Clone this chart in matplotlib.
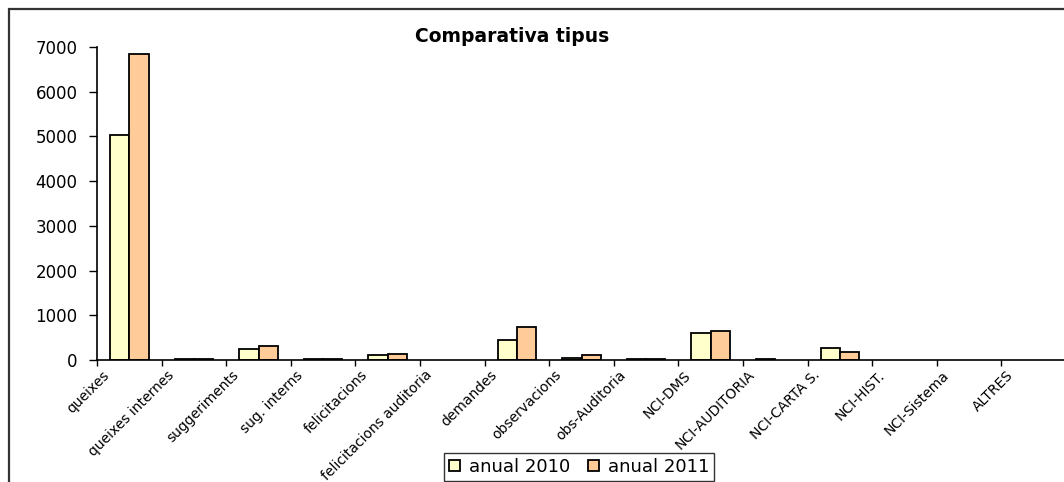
import matplotlib
matplotlib.use("Agg")
import matplotlib.pyplot as plt
import matplotlib.patches as mpatches
import matplotlib.transforms as mtransforms
import numpy as np

plt.rcParams['font.family'] = ['DejaVu Sans']

categories = ["queixes", "queixes internes", "suggeriments", "sug. interns",
              "felicitacions", "felicitacions auditoria", "demandes", "observacions",
              "obs-Auditoria", "NCI-DMS", "NCI-AUDITORIA", "NCI-CARTA S.",
              "NCI-HIST.", "NCI-Sistema", "ALTRES"]
anual_2010 = [5030, 15, 250, 15, 105, 0, 440, 50, 15, 610, 12, 270, 0, 0, 0]
anual_2011 = [6850, 15, 310, 15, 140, 0, 730, 110, 15, 640, 0, 180, 0, 0, 0]
series_names = ["anual 2010", "anual 2011"]
colors = ["#FFFFCC", "#FFCC99"]
yticks = [0, 1000, 2000, 3000, 4000, 5000, 6000, 7000]

W, H = 1064, 482
fig = plt.figure(figsize=(W / 100, H / 100), dpi=100)

# outer chart frame (partially cropped)
frame = mpatches.Rectangle((9 / W, -0.2), 1.5, (1 - 9 / H) + 0.2,
                           transform=fig.transFigure, fill=False,
                           edgecolor="#333333", linewidth=1.6)
fig.patches.append(frame)

ax = fig.add_axes([97 / W, 1 - 360 / H, (1066 - 97) / W, 313 / H])
n = len(categories)
x = np.arange(n) + 0.5
bw = 0.3
b1 = ax.bar(x - bw / 2, anual_2010, bw, color=colors[0], edgecolor="black",
            linewidth=1.3, label=series_names[0])
b2 = ax.bar(x + bw / 2, anual_2011, bw, color=colors[1], edgecolor="black",
            linewidth=1.3, label=series_names[1])
for cont in (b1, b2):
    for r in cont:
        if r.get_height() == 0:
            r.set_visible(False)

ax.set_xlim(0, n)
ax.set_ylim(0, 7000)
ax.set_yticks(yticks)
ax.set_yticklabels([str(v) for v in yticks], fontsize=12)
ax.tick_params(axis="y", length=6, width=1, pad=8, direction="out")
ax.set_xticks(np.arange(n + 1))
ax.set_xticklabels([""] * (n + 1))
ax.tick_params(axis="x", length=4, width=1, direction="out")
for s in ["top", "right"]:
    ax.spines[s].set_visible(False)
for s in ["left", "bottom"]:
    ax.spines[s].set_linewidth(1.2)
ax.patch.set_alpha(0)

# rotated category labels, anchored near the left boundary of each category
offset = mtransforms.ScaledTranslation(5 / 100, -8 / 100, fig.dpi_scale_trans)
trans = ax.get_xaxis_transform() + offset
for i, lab in enumerate(categories):
    ax.text(i, 0, lab, rotation=45, ha="right", va="top",
            rotation_mode="anchor", fontsize=10, transform=trans,
            clip_on=False)

fig.text(512 / W, 1 - 37 / H, "Comparativa tipus", ha="center", va="center",
         fontsize=13.5, fontweight="bold")

leg = fig.legend(handles=[b1, b2], labels=series_names, loc="center",
                 bbox_to_anchor=(579 / W, 1 - 467 / H), ncol=2,
                 fontsize=13, frameon=True, fancybox=False, shadow=False,
                 handlelength=0.6, handleheight=0.6, handletextpad=0.5,
                 columnspacing=1.0, borderpad=0.25, borderaxespad=0)
leg.get_frame().set_edgecolor("black")
leg.get_frame().set_linewidth(1.0)

fig.savefig("out.png", dpi=100)
